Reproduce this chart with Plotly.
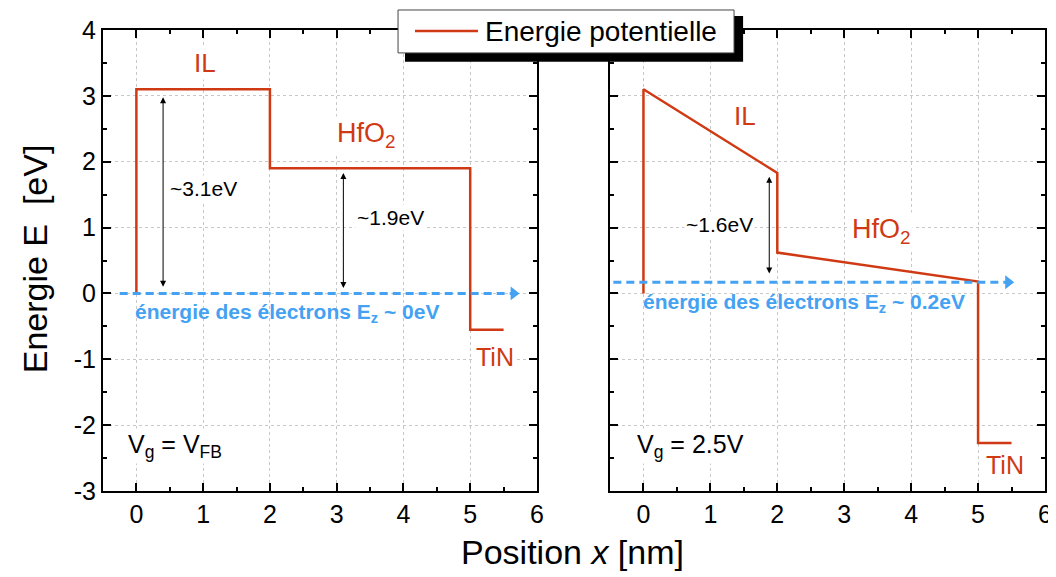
import plotly.graph_objects as go
from plotly.subplots import make_subplots

# band profile (position in nm, energy in eV)
x_pos = [0, 0, 2, 2, 5, 5, 5.5]
e_flatband = [0, 3.1, 3.1, 1.9, 1.9, -0.55, -0.55]
e_vg25 = [0, 3.1, 1.83, 0.62, 0.18, -2.27, -2.27]

# electron energy level
ez_x_left = [-0.25, 5.65]
ez_y_left = [0, 0]
ez_x_right = [-0.45, 5.45]
ez_y_right = [0.17, 0.17]

# barrier heights (x, bottom, top)
barriers_left = [(0.4, 0.08, 2.98), (3.1, 0.06, 1.83)]
barriers_right = [(1.88, 0.28, 1.77)]

# tick labels (plain hyphen like the original)
x_ticks = [0, 1, 2, 3, 4, 5, 6]
y_ticks = [-3, -2, -1, 0, 1, 2, 3, 4]
y_ticktext = ["-3", "-2", "-1", "0", "1", "2", "3", "4"]

RED = "#cf3a14"
BLUE = "#45a2f2"
FONT = "Liberation Sans, Arial, sans-serif"

fig = make_subplots(rows=1, cols=2, shared_yaxes=False, horizontal_spacing=0.0775)

fig.add_trace(go.Scatter(x=x_pos, y=e_flatband, mode="lines", name="Energie potentielle",
                         line=dict(color=RED, width=2.5), showlegend=False), row=1, col=1)
fig.add_trace(go.Scatter(x=x_pos, y=e_vg25, mode="lines", name="Energie potentielle",
                         line=dict(color=RED, width=2.5), showlegend=False), row=1, col=2)

for col, ex, ey in [(1, ez_x_left, ez_y_left), (2, ez_x_right, ez_y_right)]:
    fig.add_trace(go.Scatter(x=ex, y=ey, mode="lines", line=dict(color=BLUE, width=3, dash="8px,5px"),
                             showlegend=False, hoverinfo="skip"), row=1, col=col)
    fig.add_trace(go.Scatter(x=[ex[-1]], y=[ey[-1]], mode="markers",
                             marker=dict(symbol="triangle-right", size=12, color=BLUE),
                             showlegend=False, hoverinfo="skip"), row=1, col=col)

axis_common = dict(showline=True, linewidth=2, linecolor="black", mirror="allticks",
                   ticks="inside", ticklen=8, tickwidth=1.5, tickcolor="black",
                   showgrid=True, gridcolor="#c8c8c8", griddash="dot", gridwidth=1,
                   zeroline=False, tickfont=dict(size=25, color="black", family=FONT),
                   minor=dict(ticks="inside", ticklen=4, tickwidth=1.5, tickcolor="black", showgrid=False),
                   automargin=False)

for col in (1, 2):
    fig.update_xaxes(range=[-0.5, 6], tickvals=x_ticks, row=1, col=col, **axis_common)
    fig.update_xaxes(minor_dtick=0.5, minor_tick0=0, row=1, col=col)
    fig.update_yaxes(range=[-3, 4], tickvals=y_ticks, ticktext=y_ticktext, row=1, col=col, **axis_common)
    fig.update_yaxes(minor_dtick=0.5, minor_tick0=0, row=1, col=col)
fig.update_yaxes(showticklabels=False, row=1, col=2)

ann = []


def label(text, x, y, xref, yref, size, color="black", bg=None, xanchor="center", bold=False, angle=0):
    if bold:
        text = "<b>" + text + "</b>"
    d = dict(text=text, x=x, y=y, xref=xref, yref=yref, showarrow=False, xanchor=xanchor,
             yanchor="middle", textangle=angle, font=dict(size=size, color=color, family=FONT))
    if bg:
        d["bgcolor"] = bg
    ann.append(d)


# left panel
label("IL", 1.03, 3.5, "x", "y", 26, RED, "white")
label("HfO<sub>2</sub>", 3.45, 2.4, "x", "y", 27, RED, "white")
label("~3.1eV", 1.0, 1.6, "x", "y", 21, bg="white")
label("~1.9eV", 3.8, 1.15, "x", "y", 21, bg="white")
label("TiN", 5.37, -0.97, "x", "y", 25, RED, "white")
label("énergie des électrons E<sub>z</sub> ~ 0eV", 2.25, -0.3, "x", "y", 21, BLUE, bold=True)
label("V<sub>g</sub> = V<sub>FB</sub>", -0.15, -2.32, "x", "y", 25, xanchor="left", bg="white")

# right panel
label("IL", 1.52, 2.7, "x2", "y2", 26, RED, "white")
label("HfO<sub>2</sub>", 3.55, 0.95, "x2", "y2", 27, RED, "white")
label("~1.6eV", 1.14, 1.04, "x2", "y2", 21, bg="white")
label("TiN", 5.4, -2.6, "x2", "y2", 25, RED, "white")
label("énergie des électrons E<sub>z</sub> ~ 0.2eV", 2.4, -0.14, "x2", "y2", 21, BLUE, bold=True)
label("V<sub>g</sub> = 2.5V", -0.12, -2.32, "x2", "y2", 25, xanchor="left", bg="white")

for xr, yr, items in [("x", "y", barriers_left), ("x2", "y2", barriers_right)]:
    for bx, b0, b1 in items:
        ann.append(dict(x=bx, y=b1, ax=bx, ay=b0, xref=xr, yref=yr, axref=xr, ayref=yr, text="",
                        showarrow=True, arrowside="end+start", arrowhead=2, startarrowhead=2,
                        arrowsize=1.2, startarrowsize=1.2, arrowwidth=1, arrowcolor="black"))

# axis titles
label("Position <i>x</i> [nm]", 0.498, -0.133, "paper", "paper", 34)
label("Energie E&nbsp;&nbsp;[eV]", -0.072, 0.503, "paper", "paper", 34, angle=-90)

# legend box with drop shadow
label("Energie potentielle", 0.4037, 0.9957, "paper", "paper", 28, xanchor="left")
shapes = [
    dict(type="rect", xref="paper", yref="paper", x0=0.3206, x1=0.6795, y0=0.931, y1=1.0305,
         fillcolor="black", line=dict(width=0), layer="above"),
    dict(type="rect", xref="paper", yref="paper", x0=0.3132, x1=0.6699, y0=0.9503, y1=1.0434,
         fillcolor="white", line=dict(color="#444", width=1), layer="above"),
    dict(type="line", xref="paper", yref="paper", x0=0.3312, x1=0.3981, y0=0.9978, y1=0.9978,
         line=dict(color=RED, width=2.5), layer="above"),
]

# page body has an 8px margin, so the figure is 8px smaller and margins shifted
fig.update_layout(
    width=1048, height=569,
    margin=dict(l=95, r=11, t=22, b=86),
    paper_bgcolor="white", plot_bgcolor="white",
    annotations=ann, shapes=shapes,
    font=dict(family=FONT, color="black"),
)
fig.update_xaxes(domain=[0, 0.4607], row=1, col=1)
fig.update_xaxes(domain=[0.5382, 1.0], row=1, col=2)

fig.write_html("out.html")
